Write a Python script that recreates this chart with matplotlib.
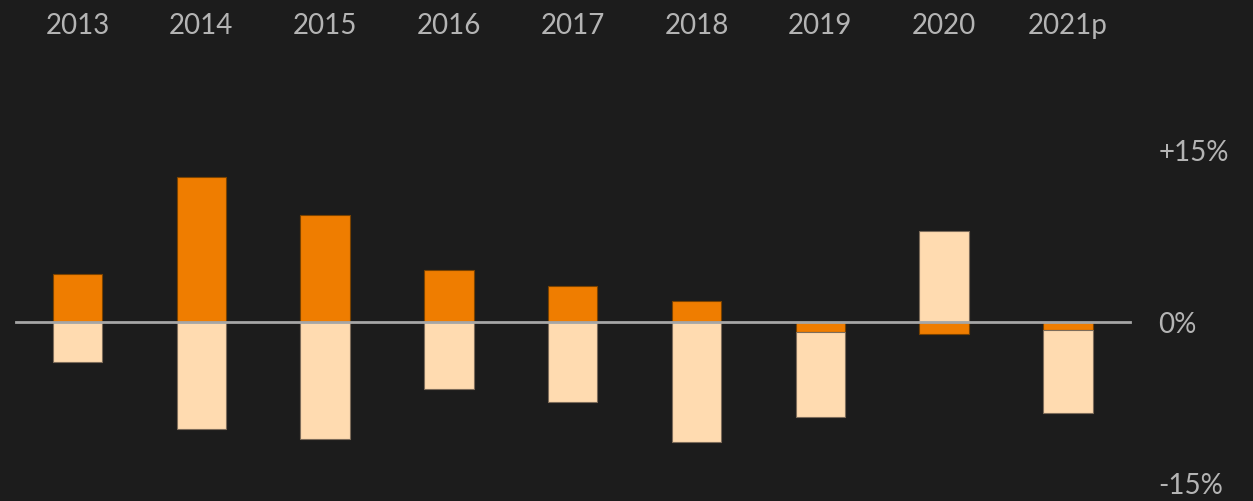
import matplotlib.pyplot as plt
import numpy as np

# Dane
lata = ['2013', '2014', '2015', '2016', '2017', '2018', '2019', '2020', '2021p']
pomaranczowe = [4.3, 12.95, 9.55, 4.65, 3.2, 1.9, -0.92, -1.05, -0.75]
jasne = [-3.6, -9.6, -10.5, -6.0, -7.15, -10.75, -7.56, 8.15, -7.37]
etykiety_y = ['+15%', '0%', '-15%']
poziomy_y = [15, 0, -15]

TLO = '#1c1c1c'
POMARANCZ = '#ef7d00'
BRZOSKWINIA = '#ffdbb0'
SZARY = '#b4b4b4'

plt.rcParams['font.family'] = ['Lato', 'DejaVu Sans']

fig = plt.figure(figsize=(12.53, 5.01), dpi=100, facecolor=TLO)
ax = fig.add_axes([0, 0, 1, 1], facecolor=TLO)

x = np.arange(len(lata))
pom = np.array(pomaranczowe)
jas = np.array(jasne)
# jasna czesc doklejana do pomaranczowej, gdy maja ten sam znak
spod = np.where(np.sign(pom) == np.sign(jas), pom, 0)

ax.bar(x, pom, width=0.4, color=POMARANCZ, edgecolor='#7a4200', linewidth=0.8, zorder=2)
ax.bar(x, jas, width=0.4, bottom=spod, color=BRZOSKWINIA, edgecolor='#7d6c5a',
       linewidth=0.8, zorder=2)

# linia zera
ax.plot([-0.497, 8.50], [0, 0], color='#a6a6a6', linewidth=2, zorder=3)

for xi, rok in zip(x, lata):
    ax.text(xi, 26.5, rok, color=SZARY, fontsize=20, ha='center', va='center')

# opisy osi po prawej, lekko przesuniete zeby dolny sie zmiescil
przesuniecia = [0.1, -0.25, 0.35]
for poz, et, dy in zip(poziomy_y, etykiety_y, przesuniecia):
    ax.text(8.73, poz + dy, et, color=SZARY, fontsize=20, ha='left', va='center')

ax.set_xlim(-0.626, 9.495)
ax.set_ylim(-16.03, 28.83)
ax.axis('off')

fig.savefig('out.png', dpi=100, facecolor=TLO)
